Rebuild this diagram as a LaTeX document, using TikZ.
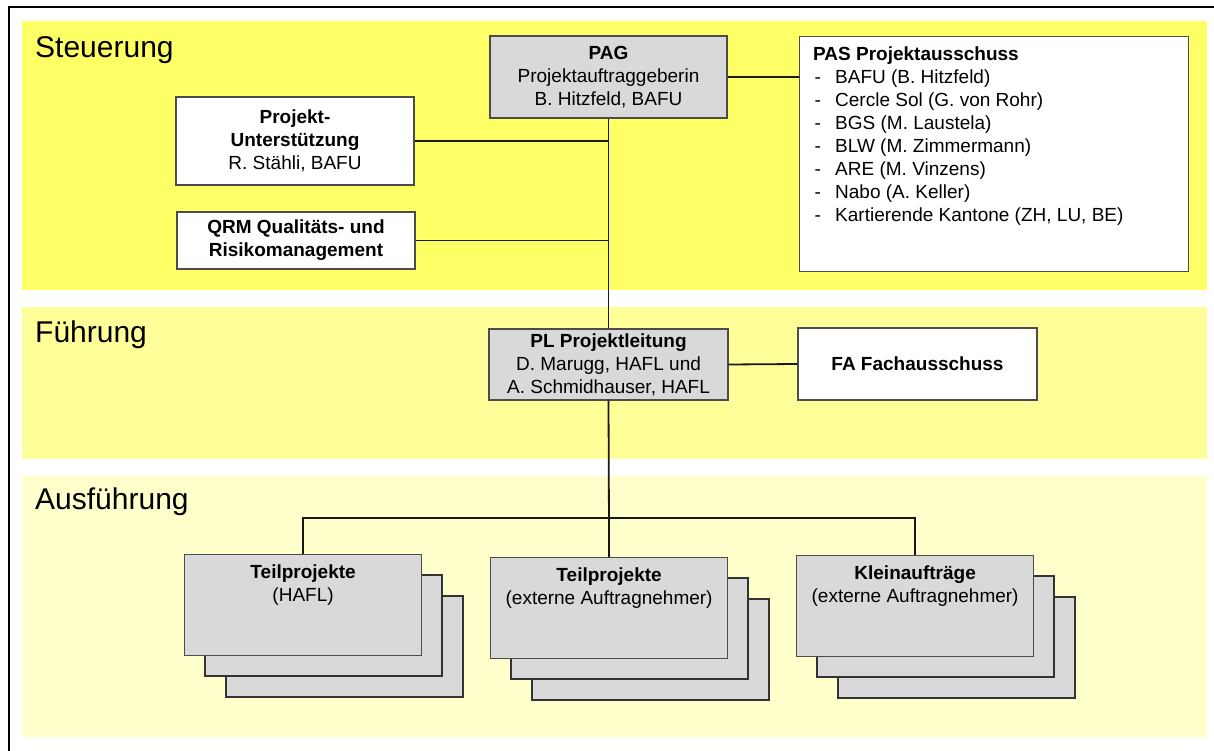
\documentclass[tikz,border=0pt]{standalone}
\usepackage{fontspec}
\setmainfont{Liberation Sans}
\definecolor{steuergelb}{HTML}{FFFF66}
\definecolor{fuehrgelb}{HTML}{FFFF99}
\definecolor{ausfgelb}{HTML}{FFFFCC}
\definecolor{kastengrau}{HTML}{D9D9D9}

\begin{document}
\begin{tikzpicture}[x=1pt, y=-1pt,
	conn/.style={line width=1.8pt, draw=black!90},
	box/.style={draw=black!70, line width=1.2pt, inner sep=0pt, align=center, font=\fontsize{19}{23}\selectfont},
	greybox/.style={box, fill=kastengrau},
	whitebox/.style={box, fill=white},
	stackbox/.style={draw=black!80, line width=1.2pt, fill=kastengrau},
	boxtext/.style={inner sep=0pt, align=center, font=\fontsize{19}{23}\selectfont},
	bandtitle/.style={inner sep=0pt, anchor=base west, font=\fontsize{30}{36}\selectfont}]
			\useasboundingbox (0,0) rectangle (1214,751);
			
			%Rahmen
			\draw[line width=2pt] (9,751) -- (9,7.5) -- (1214,7.5);
			
			%Ebenen
			\fill[steuergelb] (22,21) rectangle (1207,290);
			\fill[fuehrgelb] (22,307) rectangle (1207,459);
			\fill[ausfgelb] (22,476) rectangle (1207,737);
			\node[bandtitle] (tSteuer) at (35,58) {Steuerung};
			\node[bandtitle] (tFuehr) at (35,342) {Führung};
			\node[bandtitle] (tAusf) at (35,509) {Ausführung};
			
			%Steuerung
			\node[greybox, minimum width=237, minimum height=82] (pag) at (608.5,77) {\textbf{PAG}\\Projektauftraggeberin\\B. Hitzfeld, BAFU};
			\node[whitebox, minimum width=389, minimum height=235, anchor=north west] (pas) at (799,36) {};
			\node[boxtext, align=left, anchor=north west] (pasList) at (813,46.5) {\textbf{PAS Projektausschuss}\\
				\makebox[22pt][l]{\hspace{1.5pt}-}BAFU (B. Hitzfeld)\\
				\makebox[22pt][l]{\hspace{1.5pt}-}Cercle Sol (G. von Rohr)\\
				\makebox[22pt][l]{\hspace{1.5pt}-}BGS (M. Laustela)\\
				\makebox[22pt][l]{\hspace{1.5pt}-}BLW (M. Zimmermann)\\
				\makebox[22pt][l]{\hspace{1.5pt}-}ARE (M. Vinzens)\\
				\makebox[22pt][l]{\hspace{1.5pt}-}Nabo (A. Keller)\\
				\makebox[22pt][l]{\hspace{1.5pt}-}Kartierende Kantone (ZH, LU, BE)};
			\node[whitebox, minimum width=238, minimum height=88] (pu) at (295,141) {\textbf{Projekt-}\\\textbf{Unterstützung}\\R. Stähli, BAFU};
			\node[whitebox, minimum width=238, minimum height=57] (qrm) at (296,240.5) {\textbf{QRM Qualitäts- und}\\\textbf{Risikomanagement}};
			
			%Führung
			\node[greybox, minimum width=239, minimum height=71] (pl) at (608.5,364.5) {\textbf{PL Projektleitung}\\D. Marugg, HAFL und\\A. Schmidhauser, HAFL};
			\node[whitebox, minimum width=239, minimum height=72] (fa) at (917.5,364) {\textbf{FA Fachausschuss}};
			
			%Stapel Teilprojekte HAFL
			\def\sx{184}
			\def\sy{554}
			\draw[stackbox] (\sx+42,\sy+42) rectangle +(237,101);
			\draw[stackbox] (\sx+21,\sy+21) rectangle +(237,101);
			\node[greybox, minimum width=237, minimum height=101, anchor=north west] (tpHafl) at (\sx,\sy) {};
			\node[boxtext, anchor=north] (tpHaflText) at ([yshift=-11pt]tpHafl.north) {\textbf{Teilprojekte}\\(HAFL)};
			
			%Stapel Teilprojekte extern
			\def\sx{490}
			\def\sy{557}
			\draw[stackbox] (\sx+42,\sy+42) rectangle +(237,101);
			\draw[stackbox] (\sx+21,\sy+21) rectangle +(237,101);
			\node[greybox, minimum width=237, minimum height=101, anchor=north west] (tpExt) at (\sx,\sy) {};
			\node[boxtext, anchor=north] (tpExtText) at ([yshift=-11pt]tpExt.north) {\textbf{Teilprojekte}\\(externe Auftragnehmer)};
			
			%Stapel Kleinaufträge
			\def\sx{796}
			\def\sy{555}
			\draw[stackbox] (\sx+42,\sy+42) rectangle +(237,101);
			\draw[stackbox] (\sx+21,\sy+21) rectangle +(237,101);
			\node[greybox, minimum width=237, minimum height=101, anchor=north west] (kleinA) at (\sx,\sy) {};
			\node[boxtext, anchor=north] (kleinAText) at ([yshift=-11pt]kleinA.north) {\textbf{Kleinaufträge}\\(externe Auftragnehmer)};
			
			%Verbindungen
			\coordinate (bus) at (608.5,518);
			\draw[conn] (pag.south) -- (pl.north);
			\draw[conn] (pl.south) -- (tpExt.north);
			\draw[conn] (tpHafl.north) |- (bus) -| (kleinA.north);
			\draw[conn] (pu.east) -- (pu.east -| pag.south);
			\draw[conn] (qrm.east) -- (qrm.east -| pag.south);
			\draw[conn] (pag.east) -- (pag.east -| pas.west);
			\draw[conn] (pl.east) -- (fa.west);
		\end{tikzpicture}
\end{document}
